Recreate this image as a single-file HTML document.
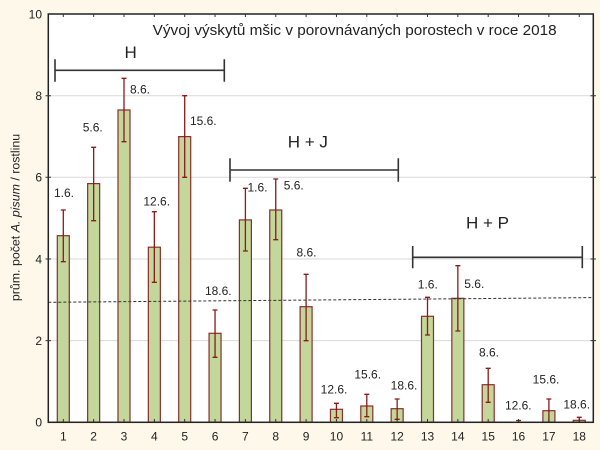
<!DOCTYPE html>
<html>
<head>
<meta charset="utf-8">
<style>
  html, body { margin:0; padding:0; background:#FDF8EA; }
  svg { display:block; }
  text { font-family: "Liberation Sans", "DejaVu Sans", sans-serif; fill:#222; }
</style>
</head>
<body>
<svg width="600" height="450" viewBox="0 0 600 450" xmlns="http://www.w3.org/2000/svg">
  <rect x="0" y="0" width="600" height="450" fill="#FDF8EA"/>
  <!-- plot area -->
  <rect x="48.3" y="14" width="545" height="408.3" fill="#FFFFFF"/>
  <!-- gridlines -->
  <g stroke="#D9D9D9" stroke-width="1">
    <line x1="48.3" y1="340.6" x2="593.3" y2="340.6"/>
    <line x1="48.3" y1="259" x2="593.3" y2="259"/>
    <line x1="48.3" y1="177.3" x2="593.3" y2="177.3"/>
    <line x1="48.3" y1="95.7" x2="593.3" y2="95.7"/>
  </g>

  <!-- bars -->
  <g fill="#C4D79B" stroke="#8B2D2D" stroke-width="1.2">
    <rect x="57.3" y="235.7" width="12" height="186.6"/>
    <rect x="87.65" y="183.6" width="12" height="238.7"/>
    <rect x="118" y="110" width="12" height="312.3"/>
    <rect x="148.35" y="247.2" width="12" height="175.1"/>
    <rect x="178.7" y="136.6" width="12" height="285.7"/>
    <rect x="209.05" y="333.3" width="12" height="89"/>
    <rect x="239.4" y="219.9" width="12" height="202.4"/>
    <rect x="269.75" y="210" width="12" height="212.3"/>
    <rect x="300.1" y="306.7" width="12" height="115.6"/>
    <rect x="330.45" y="409.3" width="12" height="13"/>
    <rect x="360.8" y="406" width="12" height="16.3"/>
    <rect x="391.15" y="408.7" width="12" height="13.6"/>
    <rect x="421.5" y="316.3" width="12" height="106"/>
    <rect x="451.85" y="298.3" width="12" height="124"/>
    <rect x="482.2" y="384.7" width="12" height="37.6"/>
    <rect x="542.9" y="410.7" width="12" height="11.6"/>
    <rect x="573.25" y="420.3" width="12" height="2"/>
  </g>

  <!-- error bars -->
  <g stroke="#8B1A1A" stroke-width="1.3" fill="none">
    <path d="M63.3 210V261.7M60.8 210H65.8M60.8 261.7H65.8"/>
    <path d="M93.65 147.3V220.7M91.15 147.3H96.15M91.15 220.7H96.15"/>
    <path d="M124 78.3V141.7M121.5 78.3H126.5M121.5 141.7H126.5"/>
    <path d="M154.35 211.7V282.3M151.85 211.7H156.85M151.85 282.3H156.85"/>
    <path d="M184.7 95.7V177.3M182.2 95.7H187.2M182.2 177.3H187.2"/>
    <path d="M215.05 310V357.3M212.55 310H217.55M212.55 357.3H217.55"/>
    <path d="M245.4 188.3V251M242.9 188.3H247.9M242.9 251H247.9"/>
    <path d="M275.75 179V239.7M273.25 179H278.25M273.25 239.7H278.25"/>
    <path d="M306.1 274.3V340.7M303.6 274.3H308.6M303.6 340.7H308.6"/>
    <path d="M336.45 403.3V417.7M333.95 403.3H338.95M333.95 417.7H338.95"/>
    <path d="M366.8 394.3V416.7M364.3 394.3H369.3M364.3 416.7H369.3"/>
    <path d="M397.15 399V419.3M394.65 399H399.65M394.65 419.3H399.65"/>
    <path d="M427.5 297.3V335M425 297.3H430M425 335H430"/>
    <path d="M457.85 265.7V331M455.35 265.7H460.35M455.35 331H460.35"/>
    <path d="M488.2 368.3V402.3M485.7 368.3H490.7M485.7 402.3H490.7"/>
    <path d="M518.55 420.5V422.3M516.05 420.5H521.05"/>
    <path d="M548.9 399V421.5M546.4 399H551.4"/>
    <path d="M579.25 417.3V422M576.75 417.3H581.75"/>
  </g>

  <!-- dashed reference line -->
  <line x1="48.3" y1="302.3" x2="593.3" y2="297.6" stroke="#333" stroke-width="1" stroke-dasharray="3,2"/>

  <!-- frame -->
  <rect x="48.3" y="14" width="545" height="408.3" fill="none" stroke="#222" stroke-width="1.5"/>

  <!-- ticks -->
  <g stroke="#333" stroke-width="1">
    <path d="M63.3 14V17M93.65 14V17M124 14V17M154.35 14V17M184.7 14V17M215.05 14V17M245.4 14V17M275.75 14V17M306.1 14V17M336.45 14V17M366.8 14V17M397.15 14V17M427.5 14V17M457.85 14V17M488.2 14V17M518.55 14V17M548.9 14V17M579.25 14V17"/>
    <path d="M63.3 422V419M93.65 422V419M124 422V419M154.35 422V419M184.7 422V419M215.05 422V419M245.4 422V419M275.75 422V419M306.1 422V419M336.45 422V419M366.8 422V419M397.15 422V419M427.5 422V419M457.85 422V419M488.2 422V419M518.55 422V419M548.9 422V419M579.25 422V419"/>
    <path d="M45.5 340.6H51M45.5 259H51M45.5 177.3H51M45.5 95.7H51"/>
    <path d="M590.5 340.6H596M590.5 259H596M590.5 177.3H596M590.5 95.7H596"/>
  </g>

  <!-- y tick labels -->
  <g font-size="12" text-anchor="end">
    <text x="42" y="18.3">10</text>
    <text x="42" y="100">8</text>
    <text x="42" y="181.6">6</text>
    <text x="42" y="263.3">4</text>
    <text x="42" y="344.9">2</text>
    <text x="42" y="426.6">0</text>
  </g>

  <!-- x tick labels -->
  <g font-size="12" text-anchor="middle">
    <text x="63.3" y="440.5">1</text>
    <text x="93.65" y="440.5">2</text>
    <text x="124" y="440.5">3</text>
    <text x="154.35" y="440.5">4</text>
    <text x="184.7" y="440.5">5</text>
    <text x="215.05" y="440.5">6</text>
    <text x="245.4" y="440.5">7</text>
    <text x="275.75" y="440.5">8</text>
    <text x="306.1" y="440.5">9</text>
    <text x="336.45" y="440.5">10</text>
    <text x="366.8" y="440.5">11</text>
    <text x="397.15" y="440.5">12</text>
    <text x="427.5" y="440.5">13</text>
    <text x="457.85" y="440.5">14</text>
    <text x="488.2" y="440.5">15</text>
    <text x="518.55" y="440.5">16</text>
    <text x="548.9" y="440.5">17</text>
    <text x="579.25" y="440.5">18</text>
  </g>

  <!-- y axis title -->
  <text transform="translate(19.5,217.5) rotate(-90)" font-size="12.4" text-anchor="middle">prům. počet <tspan font-style="italic">A. pisum</tspan> / rostlinu</text>

  <!-- chart title -->
  <text x="152.7" y="35" font-size="15" textLength="404" lengthAdjust="spacingAndGlyphs">Vývoj výskytů mšic v porovnávaných porostech v roce 2018</text>

  <!-- group brackets -->
  <g stroke="#333" stroke-width="1.6" fill="none">
    <path d="M55 70.3H224.3M55 59.3V81.7M224.3 59.3V81.7"/>
    <path d="M230 170H398.3M230 158.3V181.7M398.3 158.3V181.7"/>
    <path d="M412.7 257.3H582.3M412.7 246V268.3M582.3 246V268.3"/>
  </g>
  <g font-size="17" text-anchor="middle">
    <text x="130.7" y="57.8">H</text>
    <text x="307.8" y="147.3">H + J</text>
    <text x="487.5" y="228.3">H + P</text>
  </g>

  <!-- date labels -->
  <g font-size="12" text-anchor="middle">
    <text x="64" y="197">1.6.</text>
    <text x="92.7" y="131.3">5.6.</text>
    <text x="140" y="93.6">8.6.</text>
    <text x="156.7" y="205.3">12.6.</text>
    <text x="203.3" y="125">15.6.</text>
    <text x="218.3" y="295">18.6.</text>
    <text x="257.5" y="191.6">1.6.</text>
    <text x="293.7" y="189.3">5.6.</text>
    <text x="306.5" y="256.6">8.6.</text>
    <text x="334" y="393.6">12.6.</text>
    <text x="367.7" y="378.3">15.6.</text>
    <text x="404" y="389.3">18.6.</text>
    <text x="427.8" y="288.3">1.6.</text>
    <text x="474.3" y="287.8">5.6.</text>
    <text x="489" y="356.6">8.6.</text>
    <text x="518.3" y="409.3">12.6.</text>
    <text x="546" y="383.6">15.6.</text>
    <text x="576.7" y="408.3">18.6.</text>
  </g>
</svg>
</body>
</html>
